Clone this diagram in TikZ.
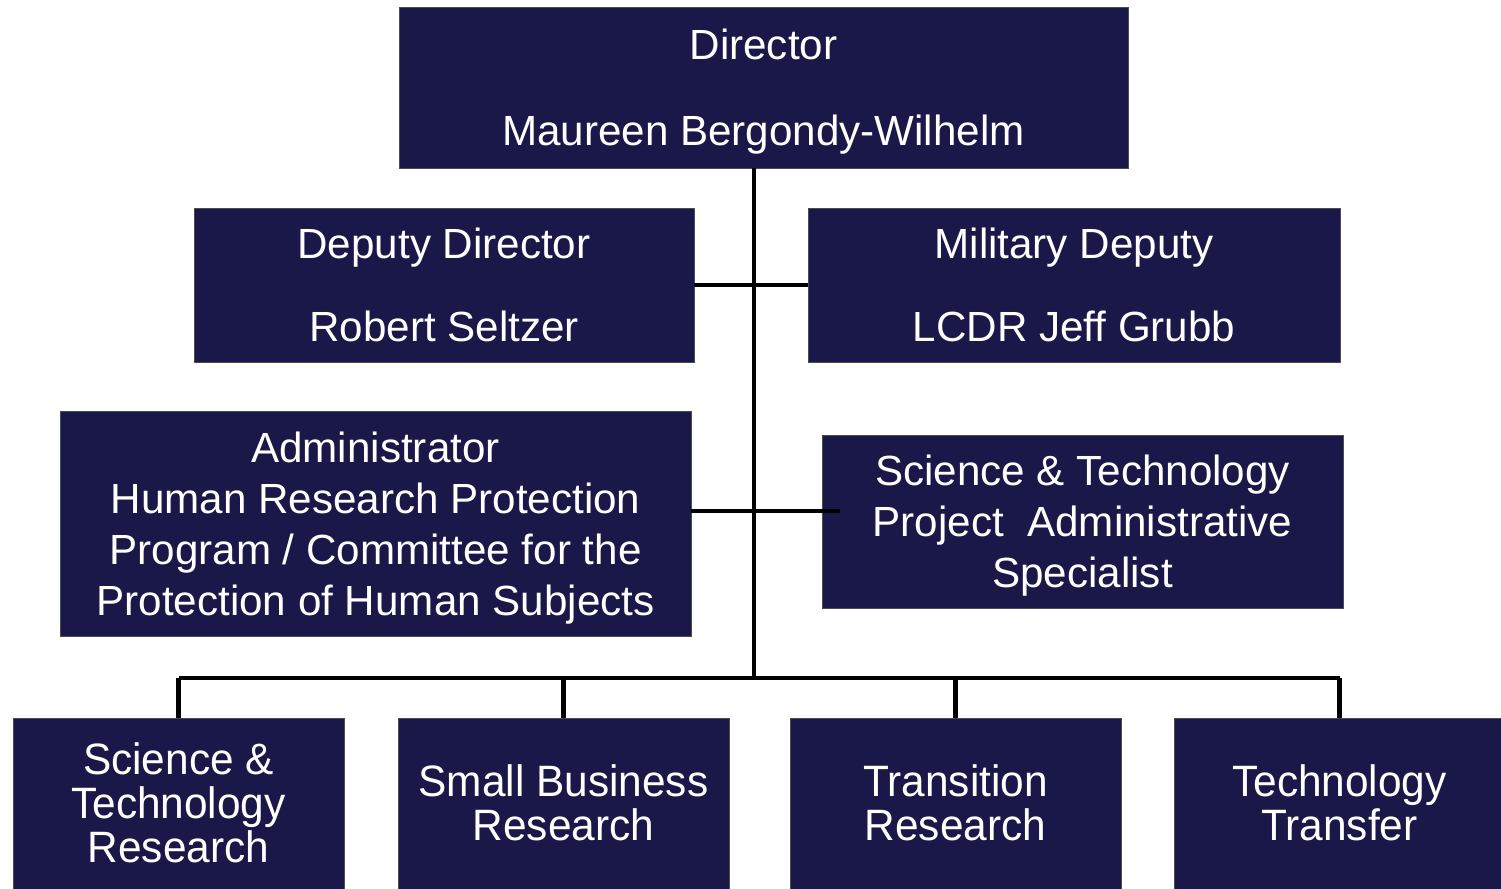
\documentclass[tikz,border=0pt]{standalone}
\usepackage{fontspec}
\setmainfont{Liberation Sans}
\newfontfamily\narrowsf[FakeStretch=0.965]{Liberation Sans}
\usetikzlibrary{calc,positioning}
\definecolor{navy}{RGB}{25,24,72}

\begin{document}
\begin{tikzpicture}
 [
    x=0.2mm, y=-0.2mm,
% Box styles
    unit/.style={rectangle,draw=black!70,line width=0.5pt,fill=navy,
        text=white,align=center,inner sep=0pt,
        font=\fontsize{24}{29}\selectfont},
    office/.style={unit,minimum width=66.2mm,minimum height=35.2mm,
        text depth=4pt,font=\narrowsf\fontsize{25}{25}\selectfont},
% Connector style
    link/.style={line width=2.3pt,draw=black}
    ]
 \useasboundingbox (0,0) rectangle (1501,888);
%% Top of the chart
 \node (dir) [unit,minimum width=145.8mm,minimum height=32.2mm,text depth=-1.8pt] at (763.5,87.5)
     {Director\\[20pt]Maureen Bergondy-Wilhelm};
 \node (dep) [unit,minimum width=100mm,minimum height=30.8mm] at (444,285)
     {Deputy Director\\[18pt]Robert Seltzer};
 \node (mil) [unit,minimum width=106.4mm,minimum height=30.8mm] at (1074,285)
     {Military Deputy\\[18pt]LCDR Jeff Grubb};
 \node (adm) [unit,minimum width=126.2mm,minimum height=45mm,text depth=-1.8pt] at (375.5,523.5)
     {Administrator\\Human Research Protection\\Program / Committee for the\\Protection of Human Subjects};
 \node (spc) [unit,minimum width=104.2mm,minimum height=34.6mm,text depth=-0.6pt] at (1082.5,521.5)
     {Science \& Technology\\Project~ Administrative\\Specialist};
%% Offices
 \node (str) [office] at (178.5,806) {Science \&\\Technology\\Research};
 \node (sbr) [office] at (563.5,806) {Small Business\\Research};
 \node (trn) [office] at (955.5,806) {Transition\\Research};
 \node (ttr) [office] at (1339.5,806) {Technology\\Transfer};
%% Draw connectors
 \coordinate (bus) at (754,678);
 \coordinate (staff) at (840,511);
 \draw [link] (dir.south -| bus) -- (bus);
 \draw [link] (dep.east) -- (mil.west);
 \draw [link] (adm.east |- staff) -- (staff);
 \draw [link] (bus -| str.north) -- (bus -| ttr.north);
 \foreach \o in {str,sbr,trn,ttr}
    \draw [link] (bus -| \o.north) -- (\o.north);
\end{tikzpicture}
\end{document}
